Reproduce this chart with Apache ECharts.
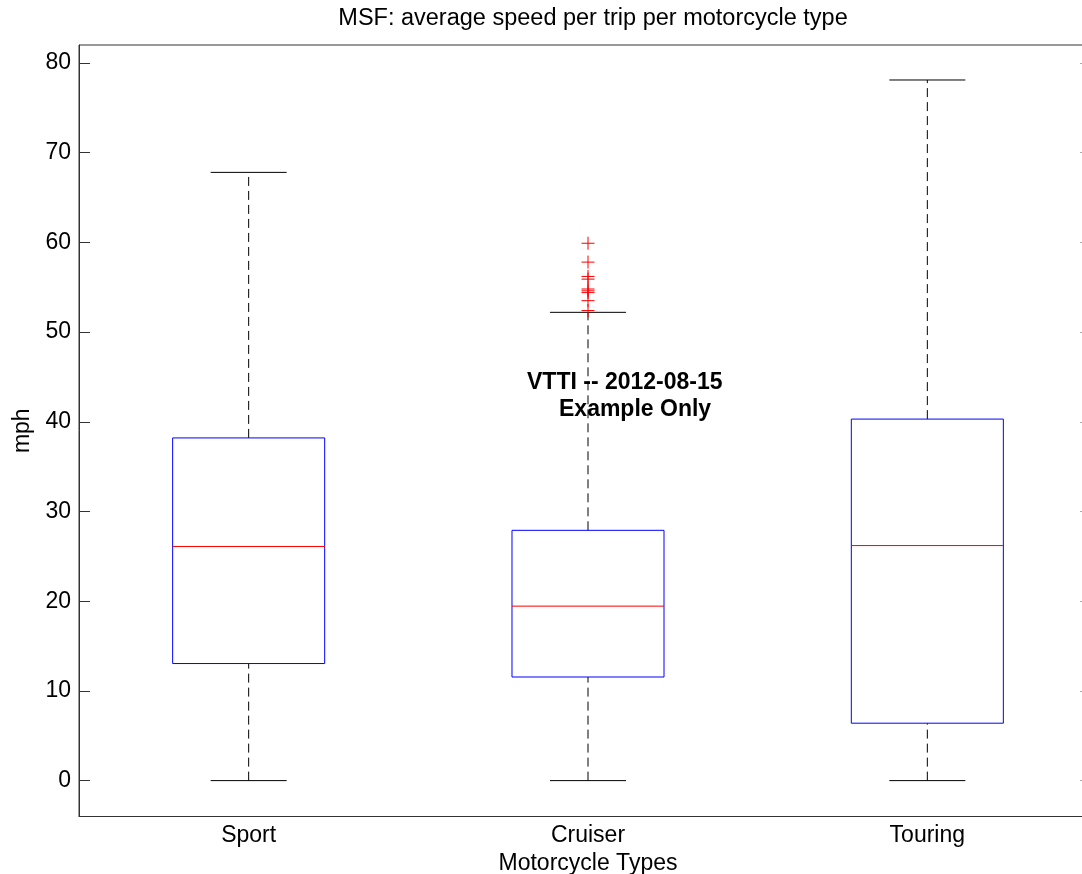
<!DOCTYPE html>
<html>
<head>
<meta charset="utf-8">
<script src="https://cdn.jsdelivr.net/npm/echarts@6/dist/echarts.min.js"></script>
<style>
  html, body { margin: 0; padding: 0; background: #fff; }
  #chart { width: 1082px; height: 874px; }
</style>
</head>
<body>
<div id="chart"></div>
<script>
// Motorcycle types on the x axis
const categories = ['Sport', 'Cruiser', 'Touring'];
// Box statistics per type (mph)
const whiskerLow = [0, 0, 0];
const quartile1 = [13.05, 11.55, 6.4];
const medians = [26.1, 19.45, 26.2];
const quartile3 = [38.2, 27.9, 40.3];
const whiskerHigh = [67.8, 52.2, 78.1];
// Outlying trips (Cruiser only)
const outlierCategory = [1, 1, 1, 1, 1, 1, 1, 1, 1];
const outlierValues = [59.9, 57.8, 56.2, 55.9, 54.8, 54.6, 54.4, 53.5, 52.4];
// Y axis ticks
const yTicks = [0, 10, 20, 30, 40, 50, 60, 70, 80];

const FONT = "'Liberation Sans', Arial, sans-serif";
const AXIS_COLOR = '#333';

const boxData = categories.map((c, i) => [i, whiskerLow[i], quartile1[i], medians[i], quartile3[i], whiskerHigh[i]]);
const outlierData = outlierValues.map((v, i) => [outlierCategory[i], v]);

function renderBox(params, api) {
  const idx = api.value(0);
  const band = api.size([1, 0])[0];
  const halfBox = band * 0.224;
  const halfCap = halfBox / 2;
  const pLow = api.coord([idx, api.value(1)]);
  const pQ1 = api.coord([idx, api.value(2)]);
  const pMed = api.coord([idx, api.value(3)]);
  const pQ3 = api.coord([idx, api.value(4)]);
  const pHigh = api.coord([idx, api.value(5)]);
  const x = pMed[0];
  const dashed = { stroke: '#000', lineWidth: 1, lineDash: [9, 5] };
  const solid = { stroke: '#000', lineWidth: 1 };
  return {
    type: 'group',
    children: [
      { type: 'line', shape: { x1: x, y1: pQ3[1], x2: x, y2: pHigh[1] }, style: dashed },
      { type: 'line', shape: { x1: x, y1: pLow[1], x2: x, y2: pQ1[1] }, style: dashed },
      { type: 'line', shape: { x1: x - halfCap, y1: pHigh[1], x2: x + halfCap, y2: pHigh[1] }, style: solid },
      { type: 'line', shape: { x1: x - halfCap, y1: pLow[1], x2: x + halfCap, y2: pLow[1] }, style: solid },
      { type: 'rect', shape: { x: x - halfBox, y: pQ3[1], width: halfBox * 2, height: pQ1[1] - pQ3[1] },
        style: { fill: 'none', stroke: '#0000ff', lineWidth: 1 } },
      { type: 'line', shape: { x1: x - halfBox, y1: pMed[1], x2: x + halfBox, y2: pMed[1] },
        style: { stroke: '#ff0000', lineWidth: 1 } }
    ]
  };
}

function renderPlus(params, api) {
  const p = api.coord([api.value(0), api.value(1)]);
  const r = 6.5;
  const st = { stroke: '#ff0000', lineWidth: 1 };
  return {
    type: 'group',
    children: [
      { type: 'line', shape: { x1: p[0] - r, y1: p[1], x2: p[0] + r, y2: p[1] }, style: st },
      { type: 'line', shape: { x1: p[0], y1: p[1] - r, x2: p[0], y2: p[1] + r }, style: st }
    ]
  };
}

const chart = echarts.init(document.getElementById('chart'), null, { renderer: 'canvas' });
chart.setOption({
  backgroundColor: '#fff',
  animation: false,
  title: {
    text: 'MSF: average speed per trip per motorcycle type',
    left: 588, top: 2, textAlign: 'center',
    textStyle: { fontFamily: FONT, fontSize: 23.5, fontWeight: 'normal', color: '#000' }
  },
  grid: {
    left: 79, top: 45, width: 1018, height: 771.5,
    outerBoundsMode: 'none',
    containLabel: false,
    show: true, borderColor: AXIS_COLOR, borderWidth: 1, backgroundColor: 'transparent'
  },
  xAxis: {
    type: 'category',
    data: categories,
    boundaryGap: true,
    name: 'Motorcycle Types',
    nameLocation: 'middle',
    nameGap: 31,
    nameTextStyle: { fontFamily: FONT, fontSize: 23, color: '#000' },
    axisLine: { show: true, onZero: false, lineStyle: { color: AXIS_COLOR } },
    axisTick: { show: false },
    axisLabel: { fontFamily: FONT, fontSize: 23, color: '#000', margin: 8 },
    splitLine: { show: false }
  },
  yAxis: [{
    type: 'value',
    min: -4, max: 82,
    name: 'mph',
    nameLocation: 'middle',
    nameGap: 44,
    nameTextStyle: { fontFamily: FONT, fontSize: 23, color: '#000' },
    axisLine: { show: true, lineStyle: { color: AXIS_COLOR } },
    axisTick: { show: true, inside: true, length: 11, customValues: yTicks, lineStyle: { color: AXIS_COLOR } },
    axisLabel: { fontFamily: FONT, fontSize: 23, color: '#000', margin: 8, customValues: yTicks },
    splitLine: { show: false }
  }, {
    type: 'value',
    position: 'right',
    min: -4, max: 82,
    axisLine: { show: true, lineStyle: { color: AXIS_COLOR } },
    axisTick: { show: true, inside: true, length: 17, customValues: yTicks, lineStyle: { color: '#aaa' } },
    axisLabel: { show: false },
    splitLine: { show: false }
  }],
  graphic: [
    { type: 'text', left: 527, top: 371, z: 100,
      style: { text: 'VTTI -- 2012-08-15', font: "bold 23px 'Liberation Sans', Arial, sans-serif", fill: '#000' } },
    { type: 'text', left: 559, top: 398, z: 100,
      style: { text: 'Example Only', font: "bold 23px 'Liberation Sans', Arial, sans-serif", fill: '#000' } }
  ],
  series: [
    { type: 'custom', name: 'boxes', renderItem: renderBox, data: boxData,
      encode: { x: 0, y: [1, 2, 3, 4, 5] }, z: 5 },
    { type: 'custom', name: 'outliers', renderItem: renderPlus, data: outlierData,
      encode: { x: 0, y: 1 }, z: 6 }
  ]
});
</script>
</body>
</html>
